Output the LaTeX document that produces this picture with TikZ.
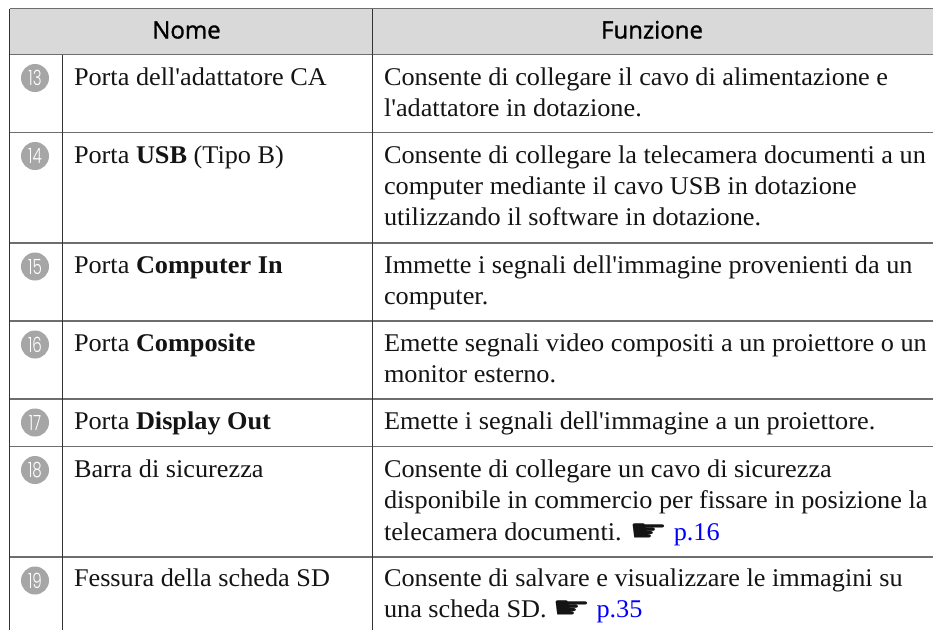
\documentclass[tikz,border=0pt]{standalone}
\usepackage{fontspec}
\setmainfont{Liberation Serif}[FakeStretch=1.03,Ligatures=TeXOff]
\newfontfamily\headfont{Open Sans}[FakeBold=1.2]
\newfontfamily\numfont{Poppins}[UprightFont=* Light,FakeStretch=0.72]
\newfontfamily\symfont{DejaVu Sans}
\definecolor{headfill}{HTML}{D9D9D9}
\definecolor{rulegray}{HTML}{6E6E6E}
\definecolor{vertdark}{HTML}{333333}
\definecolor{badge}{HTML}{A6A6A6}
\definecolor{linkblue}{HTML}{0000FF}
\newcommand{\handmark}{\hspace{-1pt}\raisebox{-1pt}{\scalebox{1.8}[1.3]{\symfont\fontsize{24}{28}\selectfont ☛}}\hspace{-1pt}}
\tikzset{
  x=1pt,y=-1pt,
  rowrule/.style={draw=rulegray,line width=1.4pt},
  vrule/.style={draw=vertdark,line width=1.1pt},
  txt/.style={anchor=base west,inner sep=0pt,outer sep=0pt,yshift=0.7pt,font=\fontsize{25.5}{30}\selectfont,text=black!92},
  head/.style={anchor=base,inner sep=0pt,font=\headfont\fontsize{24}{28}\selectfont,text=black},
  numbadge/.style={circle,fill=badge,minimum size=28pt,inner sep=0pt,text=white,font=\numfont\fontsize{21}{23}\selectfont},
}
\begin{document}
\begin{tikzpicture}
\useasboundingbox (0,0) rectangle (933,630);
\fill[white] (0,0) rectangle (933,630);
\fill[headfill] (9.5,8.5) rectangle (933,54.5);
% rules
\foreach \y in {8.5,54.5,132.5,243,321,399,446.5,557} \draw[rowrule] (9.5,\y) -- (933,\y);
\draw[vrule] (9.5,8.5) -- (9.5,630);
\draw[vrule] (62.5,54.5) -- (62.5,630);
\draw[vrule] (372.5,8.5) -- (372.5,630);
% header
\node[head] (hnome) at (186.5,38.5) {Nome};
\node[head] (hfunz) at (652,38.5) {Funzione};
% row 13
\node[numbadge] (b13) at (35,78) {13};
\node[txt] (n13) at (74,86) {Porta dell'adattatore CA};
\node[txt] (f13a) at (384,86) {Consente di collegare il cavo di alimentazione e};
\node[txt] (f13b) at (384,117) {l'adattatore in dotazione.};
% row 14
\node[numbadge] (b14) at (35,156) {14};
\node[txt] (n14) at (74,164) {Porta \textbf{USB} (Tipo B)};
\node[txt] (f14a) at (384,164) {Consente di collegare la telecamera documenti a un};
\node[txt] (f14b) at (384,195) {computer mediante il cavo USB in dotazione};
\node[txt] (f14c) at (384,226) {utilizzando il software in dotazione.};
% row 15
\node[numbadge] (b15) at (35,266.5) {15};
\node[txt] (n15) at (74,274.5) {Porta \textbf{Computer In}};
\node[txt] (f15a) at (384,274.5) {Immette i segnali dell'immagine provenienti da un};
\node[txt] (f15b) at (384,305.5) {computer.};
% row 16
\node[numbadge] (b16) at (35,344.5) {16};
\node[txt] (n16) at (74,352.5) {Porta \textbf{Composite}};
\node[txt] (f16a) at (384,352.5) {Emette segnali video compositi a un proiettore o un};
\node[txt] (f16b) at (384,383.5) {monitor esterno.};
% row 17
\node[numbadge] (b17) at (35,422.5) {17};
\node[txt] (n17) at (74,430.5) {Porta \textbf{Display Out}};
\node[txt] (f17a) at (384,430.5) {Emette i segnali dell'immagine a un proiettore.};
% row 18
\node[numbadge] (b18) at (35,470) {18};
\node[txt] (n18) at (74,478) {Barra di sicurezza};
\node[txt] (f18a) at (384,478) {Consente di collegare un cavo di sicurezza};
\node[txt] (f18b) at (384,509.5) {disponibile in commercio per fissare in posizione la};
\node[txt] (f18c) at (384,541) {telecamera documenti. \handmark\ \textcolor{linkblue}{p.16}};
% row 19
\node[numbadge] (b19) at (35,580.5) {19};
\node[txt] (n19) at (74,587.5) {Fessura della scheda SD};
\node[txt] (f19a) at (384,587.5) {Consente di salvare e visualizzare le immagini su};
\node[txt] (f19b) at (384,618.5) {una scheda SD. \handmark\ \textcolor{linkblue}{p.35}};
\end{tikzpicture}
\end{document}
